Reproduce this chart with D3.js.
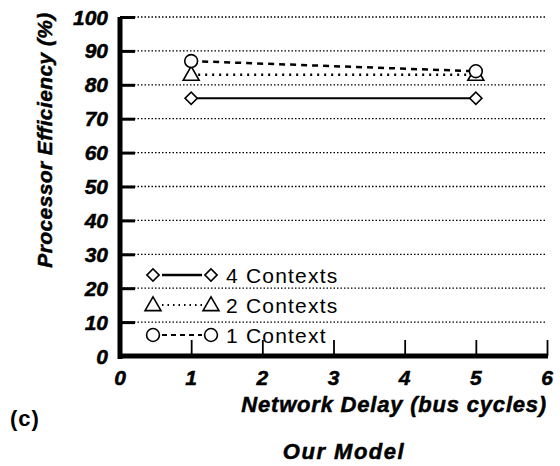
<!DOCTYPE html>
<html>
<head>
<meta charset="utf-8">
<script src="https://cdn.jsdelivr.net/npm/d3@7"></script>
<style>
  body { margin: 0; background: #fff; }
  svg text { font-family: "Liberation Sans", Arial, sans-serif; fill: #000; }
  .heavy { font-weight: bold; font-style: italic; stroke: #000; stroke-width: 0.5px; }
</style>
</head>
<body>
<div id="chart"></div>
<script>
// data
var delays = [1, 5];
var seriesNames = ["4 Contexts", "2 Contexts", "1 Context"];
var fourContexts = [76, 76];
var twoContexts = [83, 83];
var oneContext = [87, 84];
var xTicks = [0, 1, 2, 3, 4, 5, 6];
var yTicks = [0, 10, 20, 30, 40, 50, 60, 70, 80, 90, 100];

function init() {
  var w = 560;
  var h = 466;

  var x0 = 120, x1 = 547; // plot area
  var y0 = 356, y1 = 17;

  var svg = d3.select("#chart")
    .append("svg")
    .attr("width", w)
    .attr("height", h);

  var x = d3.scaleLinear().domain([0, 6]).range([x0, x1]);
  var y = d3.scaleLinear().domain([0, 100]).range([y0, y1]);

  // dotted grid
  svg.append("g")
    .selectAll("line")
    .data(yTicks.filter(function(d) { return d > 0; }))
    .enter()
    .append("line")
    .attr("x1", x0)
    .attr("x2", x1)
    .attr("y1", function(d) { return y(d); })
    .attr("y2", function(d) { return y(d); })
    .attr("stroke", "#000")
    .attr("stroke-width", 1.3)
    .attr("stroke-dasharray", "1.5,2");

  // y axis
  var yAxis = d3.axisRight(y)
    .tickValues(yTicks)
    .tickSize(15)
    .tickFormat("");
  var gy = svg.append("g")
    .attr("transform", "translate(" + x0 + ",0)")
    .call(yAxis);
  gy.select(".domain").remove();
  gy.selectAll(".tick line").attr("stroke", "#000").attr("stroke-width", 3);

  svg.append("line")
    .attr("x1", x0).attr("x2", x0)
    .attr("y1", y1).attr("y2", y0 + 3)
    .attr("stroke", "#000").attr("stroke-width", 5);

  // y tick labels
  svg.append("g")
    .selectAll("text")
    .data(yTicks)
    .enter()
    .append("text")
    .attr("class", "heavy")
    .attr("x", 108)
    .attr("y", function(d) { return y(d); })
    .attr("dy", "0.36em")
    .attr("text-anchor", "end")
    .attr("font-size", "21px")
    .text(function(d) { return d; });

  // x axis
  var xAxis = d3.axisTop(x)
    .tickValues(xTicks.filter(function(d) { return d > 0; }))
    .tickSize(16)
    .tickFormat("");
  var gx = svg.append("g")
    .attr("transform", "translate(0," + y0 + ")")
    .call(xAxis);
  gx.select(".domain").remove();
  gx.selectAll(".tick line").attr("stroke", "#000").attr("stroke-width", 1.8);

  svg.append("line")
    .attr("x1", x0 - 2).attr("x2", x1 + 1)
    .attr("y1", y0).attr("y2", y0)
    .attr("stroke", "#000").attr("stroke-width", 5);

  svg.append("g")
    .selectAll("text")
    .data(xTicks)
    .enter()
    .append("text")
    .attr("class", "heavy")
    .attr("x", function(d) { return x(d); })
    .attr("y", 385)
    .attr("text-anchor", "middle")
    .attr("font-size", "21px")
    .text(function(d) { return d; });

  // symbols
  var symbols = [d3.symbolSquare, d3.symbolTriangle, d3.symbolCircle];
  var sizes = [75, 110, 130];
  var dashes = [null, "2,5", "6,5"];
  var series = [fourContexts, twoContexts, oneContext];

  function marker(g, i, cx, cy) {
    var sym = d3.symbol().type(symbols[i]).size(sizes[i]);
    g.append("path")
      .attr("d", sym())
      .attr("transform", "translate(" + cx + "," + (cy + (i === 1 ? 1 : 0)) + ")" + (i === 0 ? " rotate(45)" : ""))
      .attr("fill", "#fff")
      .attr("stroke", "#000")
      .attr("stroke-width", 1.6);
  }

  var line = d3.line()
    .x(function(d, j) { return x(delays[j]); })
    .y(function(d) { return y(d); });

  series.forEach(function(vals, i) {
    var g = svg.append("g");
    g.append("path")
      .datum(vals)
      .attr("d", line)
      .attr("fill", "none")
      .attr("stroke", "#000")
      .attr("stroke-width", i === 0 ? 2 : 2.5)
      .attr("stroke-dasharray", dashes[i]);
    vals.forEach(function(v, j) {
      marker(g, i, x(delays[j]), y(v));
    });
  });

  // legend
  var legendY = [275, 305, 335];
  seriesNames.forEach(function(name, i) {
    var g = svg.append("g");
    g.append("line")
      .attr("x1", 162).attr("x2", 202)
      .attr("y1", legendY[i]).attr("y2", legendY[i])
      .attr("stroke", "#000")
      .attr("stroke-width", i === 0 ? 2.5 : 1.8)
      .attr("stroke-dasharray", dashes[i] === null ? null : (i === 1 ? "1.5,4" : "5,4"));
    marker(g, i, 153, legendY[i]);
    marker(g, i, 211, legendY[i]);
    g.append("text")
      .attr("x", 226)
      .attr("y", legendY[i])
      .attr("dy", "0.36em")
      .attr("font-size", "21px")
      .attr("letter-spacing", "1.2px")
      .text(name);
  });

  // axis titles
  svg.append("text")
    .attr("class", "heavy")
    .attr("transform", "translate(52,140) rotate(-90)")
    .attr("text-anchor", "middle")
    .attr("font-size", "21px")
    .attr("letter-spacing", "0.4px")
    .text("Processor Efficiency (%)");

  svg.append("text")
    .attr("class", "heavy")
    .attr("x", 547)
    .attr("y", 412)
    .attr("text-anchor", "end")
    .attr("font-size", "22px")
    .attr("letter-spacing", "0.8px")
    .text("Network Delay (bus cycles)");

  svg.append("text")
    .attr("x", 10)
    .attr("y", 426)
    .attr("font-size", "22px")
    .attr("font-weight", "bold")
    .attr("letter-spacing", "1px")
    .text("(c)");

  svg.append("text")
    .attr("class", "heavy")
    .attr("x", 344)
    .attr("y", 459)
    .attr("text-anchor", "middle")
    .attr("font-size", "22px")
    .attr("letter-spacing", "1.5px")
    .text("Our Model");
}

window.onload = init;
</script>
</body>
</html>
